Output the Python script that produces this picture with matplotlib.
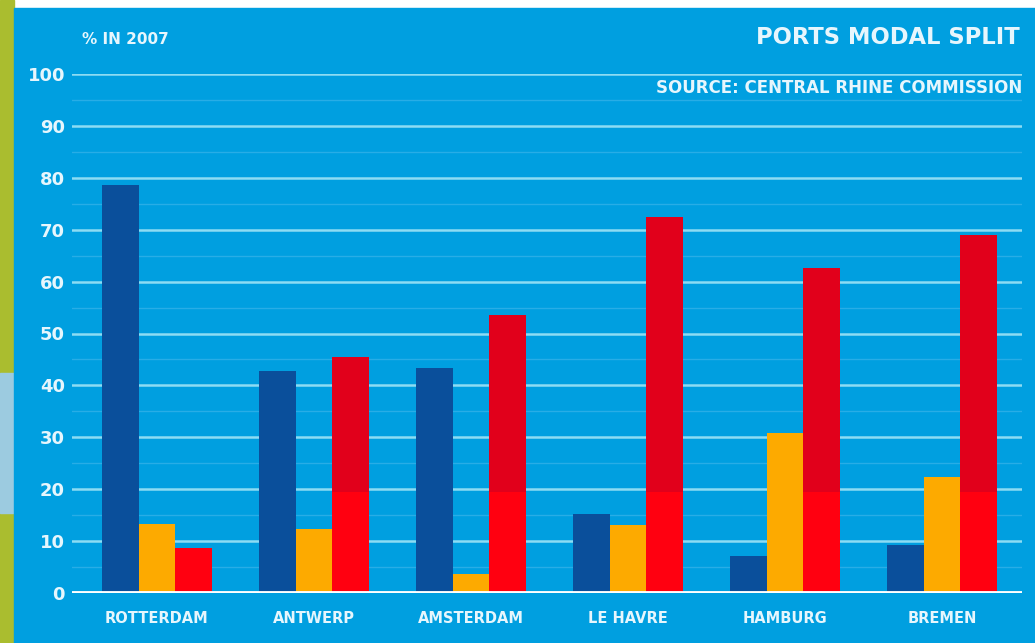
import matplotlib
matplotlib.use("Agg")
import matplotlib.pyplot as plt
import numpy as np
from matplotlib.patches import Rectangle

ports = ["ROTTERDAM", "ANTWERP", "AMSTERDAM", "LE HAVRE", "HAMBURG", "BREMEN"]
inland_water = [78.6, 42.8, 43.4, 15.2, 7.1, 9.2]
rail = [13.3, 12.3, 3.7, 13.1, 30.8, 22.4]
road = [8.7, 45.5, 53.6, 72.4, 62.6, 69.0]
yticks = [0, 10, 20, 30, 40, 50, 60, 70, 80, 90, 100]

BG = "#009fe0"
TXT = "#e6f6fd"
FONT = "DejaVu Sans"

W, H = 1035, 643
fig = plt.figure(figsize=(W / 100, H / 100), dpi=100)
fig.patch.set_facecolor("white")
# left decorative strip and blue panel
fig.add_artist(Rectangle((0, 0), 14 / W, 1, transform=fig.transFigure, color="#aabd2f", zorder=0))
fig.add_artist(Rectangle((0, 130 / H), 14 / W, 140 / H, transform=fig.transFigure, color="#9ccbe0", zorder=0))
fig.add_artist(Rectangle((14 / W, 0), 1, (H - 8) / H, transform=fig.transFigure, color=BG, zorder=0))

ax = fig.add_axes([72 / W, 50 / H, (1022 - 72) / W, (593 - 74) / H])
ax.set_facecolor("none")
x = np.arange(len(ports))
bw = 0.233

ax.bar(x - bw, inland_water, bw, color="#0a4f9b", zorder=3)
ax.bar(x, rail, bw, color="#fdaa00", zorder=3)
ax.bar(x + bw, road, bw, color="#e1001b", zorder=3)
ax.bar(x + bw, np.minimum(road, 19.4), bw, color="#ff0010", zorder=3)

ax.set_xlim(-0.54, 5.51)
ax.set_ylim(0, 100)
for v in range(5, 100, 10):
    ax.axhline(v, color="#28ade6", lw=1.0, zorder=1)
for v in yticks[1:]:
    ax.axhline(v, color="#8ddcf3", lw=1.8, zorder=1)
ax.axhline(0, color="white", lw=3.5, zorder=4, xmin=-0.003)

for s in ax.spines.values():
    s.set_visible(False)
ax.set_yticks(yticks)
ax.set_yticklabels([str(t) for t in yticks], fontsize=13, color=TXT, fontfamily=FONT, fontweight="bold")
ax.set_xticks(x)
ax.set_xticklabels(ports, fontsize=10.5, color=TXT, fontfamily=FONT, fontweight="bold")
ax.tick_params(axis="both", length=0)
ax.tick_params(axis="y", pad=5)
ax.tick_params(axis="x", pad=13)

fig.text(1020 / W, 1 - 38 / H, "PORTS MODAL SPLIT", ha="right", va="center", fontsize=16.3,
         color=TXT, fontfamily=FONT, fontweight="bold")
fig.text(1022 / W, 1 - 88 / H, "SOURCE: CENTRAL RHINE COMMISSION", ha="right", va="center", fontsize=12,
         color=TXT, fontfamily=FONT, fontweight="bold")
fig.text(82 / W, 1 - 40 / H, "% IN 2007", ha="left", va="center", fontsize=11,
         color=TXT, fontfamily=FONT, fontweight="bold")

fig.savefig("out.png", dpi=100, facecolor=fig.get_facecolor())
